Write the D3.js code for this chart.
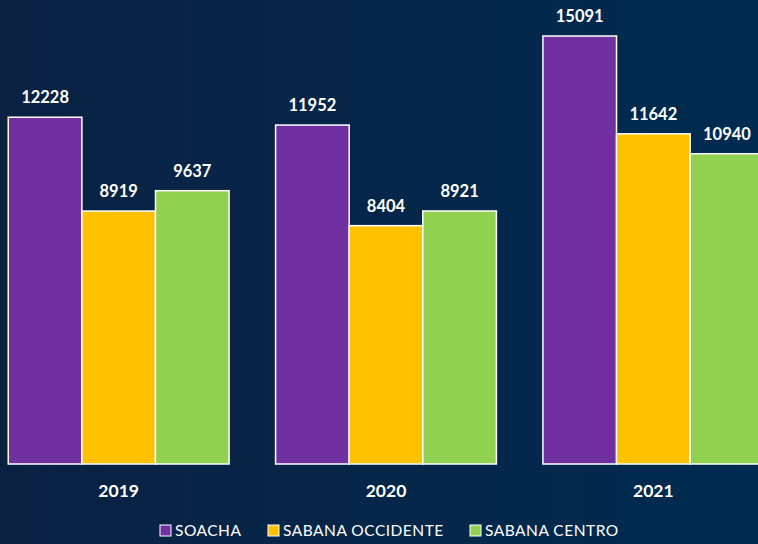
<!DOCTYPE html>
<html>
<head>
<meta charset="utf-8">
<script src="https://cdn.jsdelivr.net/npm/d3@7"></script>
<style>
    html, body { margin: 0; padding: 0; background: #012549; }
    svg { display: block; font-family: Lato, "Open Sans", sans-serif; }
</style>
</head>
<body>
<div id="chart"></div>
<script>
// Chart data
const years = ["2019", "2020", "2021"];
const seriesNames = ["SOACHA", "SABANA OCCIDENTE", "SABANA CENTRO"];
const soacha = [12228, 11952, 15091];
const sabanaOccidente = [8919, 8404, 11642];
const sabanaCentro = [9637, 8921, 10940];
const seriesColors = ["#7030A0", "#FFC000", "#92D050"];

const width = 758, height = 544;
const baseY = 464;

const svg = d3.select("#chart")
    .append("svg")
    .attr("width", width)
    .attr("height", height);

// Background gradient
const defs = svg.append("defs");
const grad = defs.append("linearGradient")
    .attr("id", "bg")
    .attr("x1", "0%").attr("y1", "0%")
    .attr("x2", "100%").attr("y2", "0%");
grad.append("stop").attr("offset", "0%").attr("stop-color", "#0a2142");
grad.append("stop").attr("offset", "100%").attr("stop-color", "#002b50");
svg.append("rect")
    .attr("width", width)
    .attr("height", height)
    .attr("fill", "url(#bg)");

// Scales
const x0 = d3.scaleBand()
    .domain(years)
    .range([-15, 787])
    .paddingInner(0.174)
    .paddingOuter(0.087);

const x1 = d3.scaleBand()
    .domain(seriesNames)
    .range([0, x0.bandwidth()]);

const y = d3.scaleLinear()
    .domain([0, 16361])
    .range([baseY, 0]);

const color = d3.scaleOrdinal().domain(seriesNames).range(seriesColors);

// Flatten data into rows
const values = [soacha, sabanaOccidente, sabanaCentro];
const rows = [];
years.forEach((yr, i) => {
    seriesNames.forEach((s, j) => {
        rows.push({ year: yr, series: s, value: values[j][i] });
    });
});

const groups = svg.append("g");

// Bars
groups.selectAll(".bar")
    .data(rows)
    .enter()
    .append("rect")
    .attr("class", "bar")
    .attr("x", d => x0(d.year) + x1(d.series))
    .attr("y", d => y(d.value))
    .attr("width", x1.bandwidth())
    .attr("height", d => baseY - y(d.value))
    .attr("fill", d => color(d.series))
    .attr("stroke", "#ffffff")
    .attr("stroke-width", 1.5);

// Value labels
groups.selectAll(".val")
    .data(rows)
    .enter()
    .append("text")
    .attr("class", "val")
    .attr("x", d => x0(d.year) + x1(d.series) + x1.bandwidth() / 2)
    .attr("y", d => y(d.value) - 14)
    .attr("text-anchor", "middle")
    .attr("fill", "#ffffff")
    .attr("font-size", 16.5)
    .attr("font-weight", "bold")
    .text(d => d.value);

// Category axis labels
const xAxis = svg.append("g")
    .attr("transform", `translate(0,${baseY})`)
    .call(d3.axisBottom(x0).tickSize(0).tickPadding(21));
xAxis.select(".domain").remove();
xAxis.selectAll("text")
    .attr("fill", "#ffffff")
    .attr("font-size", 17.5)
    .attr("font-weight", "bold")
    .attr("font-family", "Lato, 'Open Sans', sans-serif");

// Legend
const legendX = [160, 268, 470];
const legend = svg.append("g");
const items = legend.selectAll(".leg")
    .data(seriesNames)
    .enter()
    .append("g")
    .attr("transform", (d, i) => `translate(${legendX[i]},525)`);
items.append("rect")
    .attr("width", 11)
    .attr("height", 11)
    .attr("fill", d => color(d))
    .attr("stroke", "#ffffff")
    .attr("stroke-width", 1);
items.append("text")
    .attr("x", 15)
    .attr("y", 11)
    .attr("fill", "#ffffff")
    .attr("font-size", 15.5)
    .attr("letter-spacing", 0.5)
    .text(d => d);
</script>
</body>
</html>
